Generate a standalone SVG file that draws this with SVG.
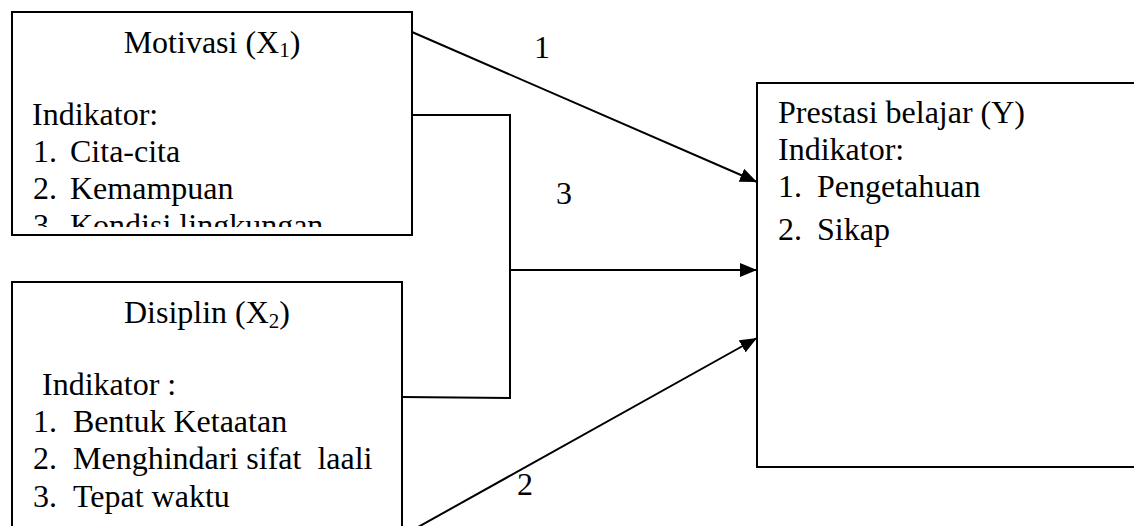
<svg xmlns="http://www.w3.org/2000/svg" width="1134" height="526" viewBox="0 0 1134 526">
<style>
.box{fill:#fff;stroke:#000;stroke-width:2}
.t{font-family:'Liberation Serif','Times New Roman',Tinos,'DejaVu Serif',serif;font-size:32px;fill:#000}
.c{fill:none;stroke:#000;stroke-width:2}
</style>
<defs>
<marker id="ah" markerUnits="userSpaceOnUse" markerWidth="18" markerHeight="14" refX="17" refY="7" orient="auto">
<path d="M0,0 L17,7 L0,14 Z" fill="#000"/>
</marker>
<clipPath id="clip1"><rect x="12" y="12" width="400" height="215"/></clipPath>
</defs>
<rect width="1134" height="526" fill="#fff"/>
<g id="connectors">
<line class="c" x1="412" y1="32" x2="757" y2="182" marker-end="url(#ah)"/>
<polyline class="c" points="412,115 510,115 510,398 402,397"/>
<line class="c" x1="510" y1="270" x2="757" y2="270" marker-end="url(#ah)"/>
<line class="c" x1="402" y1="536" x2="757" y2="338" marker-end="url(#ah)"/>
<text class="t" x="542" y="58" text-anchor="middle">1</text>
<text class="t" x="564" y="204" text-anchor="middle">3</text>
<text class="t" x="525" y="495" text-anchor="middle">2</text>
</g>
<g id="motivasi">
<rect class="box" x="12" y="12" width="400" height="223"/>
<text class="t" font-family="Liberation Serif" x="212" y="53" text-anchor="middle">Motivasi (X<tspan font-size="21" dy="4">1</tspan><tspan dy="-4">)</tspan></text>
<g clip-path="url(#clip1)">
<text class="t" x="32" y="125">Indikator:</text>
<text class="t" x="33" y="162">1.</text><text class="t" x="70" y="162">Cita-cita</text>
<text class="t" x="33" y="199">2.</text><text class="t" x="70" y="199">Kemampuan</text>
<text class="t" x="33" y="236">3.</text><text class="t" x="70" y="236">Kondisi lingkungan</text>
</g>
</g>
<g id="disiplin">
<rect class="box" x="12" y="282" width="390" height="260"/>
<text class="t" x="207" y="323" text-anchor="middle">Disiplin (X<tspan font-size="21" dy="5">2</tspan><tspan dy="-5">)</tspan></text>
<text class="t" x="42" y="395">Indikator :</text>
<text class="t" x="33" y="432">1.</text><text class="t" x="73" y="432">Bentuk Ketaatan</text>
<text class="t" x="33" y="469">2.</text><text class="t" x="73" y="469" xml:space="preserve">Menghindari sifat  laali</text>
<text class="t" x="33" y="507">3.</text><text class="t" x="73" y="507">Tepat waktu</text>
</g>
<g id="prestasi">
<rect class="box" x="757" y="83" width="400" height="384"/>
<text class="t" x="778" y="123">Prestasi belajar (Y)</text>
<text class="t" x="778" y="160">Indikator:</text>
<text class="t" x="778" y="197">1.</text><text class="t" x="817" y="197">Pengetahuan</text>
<text class="t" x="778" y="240">2.</text><text class="t" x="817" y="240">Sikap</text>
</g>
</svg>
